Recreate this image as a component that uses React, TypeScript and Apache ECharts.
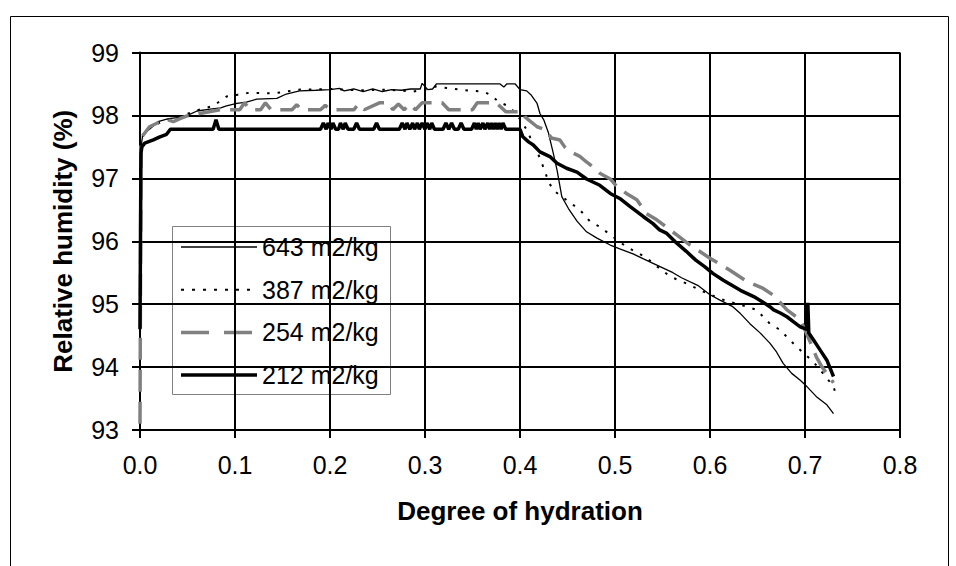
import React, { useEffect, useRef } from "react";
import * as echarts from "echarts";

const xTicks = [0, 0.1, 0.2, 0.3, 0.4, 0.5, 0.6, 0.7, 0.8];
const yTicks = [93, 94, 95, 96, 97, 98, 99];
const seriesNames = ["643 m2/kg", "387 m2/kg", "254 m2/kg", "212 m2/kg"];

const s643: [number, number][] = [
  [0, 96.6], [0.001, 97.5], [0.003, 97.7], [0.01, 97.78], [0.019, 97.9], [0.03, 97.95], [0.042, 97.97],
  [0.05, 98.0], [0.06, 98.07], [0.074, 98.1], [0.085, 98.12], [0.091, 98.15], [0.102, 98.19], [0.112, 98.21],
  [0.123, 98.26], [0.144, 98.27], [0.154, 98.34], [0.168, 98.39], [0.185, 98.4], [0.2, 98.41], [0.21, 98.43],
  [0.215, 98.39], [0.225, 98.42], [0.235, 98.38], [0.245, 98.42], [0.255, 98.38], [0.265, 98.41], [0.275, 98.4],
  [0.285, 98.42], [0.295, 98.42], [0.297, 98.51], [0.303, 98.41], [0.308, 98.42], [0.312, 98.5], [0.379, 98.5],
  [0.383, 98.45], [0.386, 98.5], [0.395, 98.5], [0.4, 98.41], [0.407, 98.39], [0.412, 98.32], [0.418, 98.19],
  [0.421, 98.03], [0.425, 97.93], [0.43, 97.72], [0.435, 97.4], [0.439, 97.13], [0.444, 96.71], [0.451, 96.52],
  [0.46, 96.32], [0.47, 96.15], [0.481, 96.05], [0.495, 95.94], [0.505, 95.88], [0.519, 95.8], [0.53, 95.72],
  [0.544, 95.62], [0.561, 95.5], [0.57, 95.42], [0.587, 95.3], [0.6, 95.15], [0.611, 95.06], [0.624, 94.96],
  [0.632, 94.85], [0.642, 94.69], [0.653, 94.54], [0.663, 94.38], [0.67, 94.24], [0.677, 94.06], [0.686, 93.9],
  [0.695, 93.79], [0.702, 93.69], [0.712, 93.53], [0.723, 93.4], [0.73, 93.26],
];

const s387: [number, number][] = [
  [0, 97.0], [0.001, 97.6], [0.005, 97.75], [0.015, 97.85], [0.03, 97.93], [0.045, 98.0], [0.06, 98.08],
  [0.077, 98.15], [0.091, 98.3], [0.103, 98.33], [0.115, 98.36], [0.14, 98.35], [0.168, 98.41], [0.2, 98.42],
  [0.23, 98.4], [0.26, 98.41], [0.288, 98.38], [0.3, 98.41], [0.312, 98.46], [0.326, 98.43], [0.337, 98.41],
  [0.349, 98.39], [0.361, 98.38], [0.37, 98.32], [0.377, 98.22], [0.389, 98.14], [0.397, 98.0], [0.402, 97.9],
  [0.407, 97.77], [0.412, 97.61], [0.418, 97.42], [0.421, 97.32], [0.425, 97.16], [0.43, 96.95], [0.435, 96.81],
  [0.444, 96.71], [0.454, 96.6], [0.463, 96.5], [0.474, 96.31], [0.484, 96.23], [0.498, 96.07], [0.512, 95.91],
  [0.532, 95.75], [0.54, 95.65], [0.558, 95.44], [0.575, 95.33], [0.597, 95.17], [0.614, 95.07], [0.632, 94.99],
  [0.649, 94.91], [0.663, 94.69], [0.674, 94.59], [0.684, 94.43], [0.695, 94.27], [0.709, 94.08], [0.719, 93.9],
  [0.73, 93.69], [0.732, 93.59],
];

const s254: [number, number][] = [
  [0, 93.1], [0.001, 97.5], [0.002, 97.66], [0.01, 97.82], [0.021, 97.9], [0.028, 97.94], [0.035, 97.9],
  [0.042, 97.95], [0.049, 97.99], [0.063, 98.03], [0.084, 98.09], [0.105, 98.09], [0.11, 98.2], [0.116, 98.09],
  [0.127, 98.09], [0.132, 98.2], [0.138, 98.09], [0.16, 98.09], [0.165, 98.17], [0.17, 98.09], [0.19, 98.09],
  [0.195, 98.16], [0.2, 98.09], [0.225, 98.09], [0.23, 98.18], [0.236, 98.09], [0.252, 98.2], [0.262, 98.2],
  [0.266, 98.09], [0.272, 98.18], [0.278, 98.09], [0.284, 98.18], [0.29, 98.09], [0.297, 98.2], [0.318, 98.2],
  [0.325, 98.09], [0.35, 98.09], [0.355, 98.2], [0.375, 98.2], [0.385, 98.06], [0.403, 98.06], [0.405, 97.98],
  [0.409, 97.93], [0.418, 97.82], [0.427, 97.77], [0.433, 97.64], [0.442, 97.61], [0.447, 97.5], [0.456, 97.4],
  [0.463, 97.35], [0.47, 97.26], [0.477, 97.18], [0.484, 97.08], [0.495, 96.99], [0.502, 96.87], [0.512, 96.76],
  [0.523, 96.66], [0.533, 96.44], [0.544, 96.34], [0.558, 96.18], [0.565, 96.1], [0.579, 95.94], [0.6, 95.73],
  [0.621, 95.54], [0.639, 95.36], [0.656, 95.25], [0.667, 95.14], [0.681, 94.91], [0.695, 94.75], [0.7, 94.59],
  [0.706, 94.38], [0.712, 94.16], [0.718, 94.0], [0.73, 93.75],
];

const s212: [number, number][] = [
  [0, 94.6], [0.001, 97.4], [0.002, 97.5], [0.005, 97.56], [0.014, 97.61], [0.021, 97.66], [0.028, 97.7], [0.032, 97.78],
  [0.077, 97.78], [0.08, 97.93], [0.083, 97.78],
  [0.19, 97.78], [0.193, 97.88], [0.196, 97.78], [0.198, 97.88], [0.201, 97.78], [0.203, 97.88], [0.206, 97.78],
  [0.209, 97.78], [0.211, 97.88], [0.214, 97.78], [0.216, 97.88], [0.219, 97.78], [0.225, 97.78], [0.228, 97.88],
  [0.231, 97.78], [0.246, 97.78], [0.249, 97.88], [0.252, 97.78],
  [0.273, 97.78], [0.276, 97.88], [0.279, 97.78], [0.281, 97.88], [0.284, 97.78], [0.287, 97.88], [0.289, 97.78],
  [0.292, 97.88], [0.294, 97.78], [0.297, 97.88], [0.3, 97.78], [0.302, 97.88], [0.305, 97.78], [0.307, 97.88],
  [0.31, 97.78], [0.319, 97.78], [0.322, 97.88], [0.325, 97.78], [0.328, 97.88], [0.331, 97.78],
  [0.335, 97.78], [0.338, 97.88], [0.341, 97.78],
  [0.349, 97.78], [0.352, 97.88], [0.354, 97.78], [0.356, 97.88], [0.358, 97.78], [0.361, 97.88], [0.363, 97.78],
  [0.366, 97.88], [0.368, 97.78], [0.37, 97.88], [0.372, 97.78], [0.374, 97.88], [0.376, 97.78], [0.378, 97.88],
  [0.38, 97.78], [0.382, 97.88], [0.385, 97.78],
  [0.4, 97.78], [0.403, 97.66], [0.409, 97.58], [0.414, 97.53], [0.421, 97.42], [0.432, 97.34], [0.439, 97.24],
  [0.449, 97.16], [0.46, 97.1], [0.47, 96.99], [0.484, 96.89], [0.495, 96.76], [0.505, 96.68], [0.516, 96.55],
  [0.53, 96.39], [0.54, 96.28], [0.547, 96.18], [0.554, 96.13], [0.565, 95.97], [0.575, 95.84], [0.585, 95.7],
  [0.594, 95.6], [0.603, 95.49], [0.614, 95.38], [0.623, 95.3], [0.632, 95.22], [0.646, 95.12], [0.655, 95.04],
  [0.663, 94.96], [0.667, 94.91], [0.674, 94.86], [0.681, 94.8], [0.688, 94.72], [0.695, 94.64],
  [0.702, 94.6], [0.703, 95.02], [0.704, 94.54], [0.709, 94.43], [0.716, 94.27], [0.723, 94.11], [0.73, 93.85],
];

const FONT = "'Liberation Sans', Arial, sans-serif";

const styles = [
  { color: "#000000", width: 1.3, dash: "solid" as any, legendDash: null as number[] | null },
  { color: "#000000", width: 2, dash: [2.5, 8] as any, legendDash: [3, 8] },
  { color: "#808080", width: 3.5, dash: [22, 10] as any, legendDash: [28, 15] },
  { color: "#000000", width: 3.5, dash: "solid" as any, legendDash: null },
];

export default function App() {
  const ref = useRef<HTMLDivElement>(null);
  useEffect(() => {
    if (!ref.current) return;
    const chart = echarts.init(ref.current, null, { renderer: "svg" });
    const datasets = [s643, s387, s254, s212];

    const legendTop = 226;
    const rowH = 42.7;
    const legendEls: any[] = [
      {
        type: "rect",
        shape: { x: 172.5, y: legendTop + 0.5, width: 218, height: 168 },
        style: { fill: "#ffffff", stroke: "#808080", lineWidth: 1 },
      },
    ];
    seriesNames.forEach((name, i) => {
      const cy = legendTop + 21 + i * rowH;
      legendEls.push({
        type: "line",
        shape: { x1: 181, y1: cy, x2: 257, y2: cy },
        style: {
          stroke: styles[i].color,
          lineWidth: styles[i].width,
          lineDash: styles[i].legendDash || undefined,
        },
      });
      legendEls.push({
        type: "text",
        x: 262,
        y: cy,
        style: {
          text: name,
          fontSize: 25,
          fontFamily: FONT,
          fill: "#000",
          verticalAlign: "middle",
          align: "left",
        },
      });
    });

    chart.setOption({
      animation: false,
      backgroundColor: "#ffffff",
      textStyle: { fontFamily: FONT, color: "#000" },
      grid: { left: 140, top: 52.5, right: 56, bottom: 136, containLabel: false },
      xAxis: {
        type: "value",
        min: xTicks[0],
        max: xTicks[xTicks.length - 1],
        interval: 0.1,
        name: "Degree of hydration",
        nameLocation: "middle",
        nameGap: 68,
        nameTextStyle: { fontSize: 26, fontWeight: "bold", color: "#000", fontFamily: FONT },
        axisLine: { show: true, onZero: false, lineStyle: { color: "#000", width: 2 } },
        axisTick: { show: true, inside: false, length: 8, lineStyle: { color: "#000", width: 2 } },
        axisLabel: {
          fontSize: 25,
          color: "#000",
          margin: 22,
          formatter: (v: number) => v.toFixed(1),
        },
        splitLine: { show: true, lineStyle: { color: "#000", width: 2 } },
      },
      yAxis: {
        type: "value",
        min: yTicks[0],
        max: yTicks[yTicks.length - 1],
        interval: 1,
        name: "Relative humidity (%)",
        nameLocation: "middle",
        nameGap: 64,
        nameTextStyle: { fontSize: 26, fontWeight: "bold", color: "#000", fontFamily: FONT },
        axisLine: { show: true, lineStyle: { color: "#000", width: 2 } },
        axisTick: { show: true, inside: false, length: 8, lineStyle: { color: "#000", width: 2 } },
        axisLabel: { fontSize: 25, color: "#000", margin: 21 },
        splitLine: { show: true, lineStyle: { color: "#000", width: 2 } },
      },
      series: datasets.map((d, i) => ({
        name: seriesNames[i],
        type: "line",
        data: d,
        symbol: "none",
        showSymbol: false,
        smooth: false,
        z: 2 + i,
        lineStyle: { color: styles[i].color, width: styles[i].width, type: styles[i].dash },
        itemStyle: { color: styles[i].color },
      })),
      graphic: [
        {
          type: "rect",
          silent: true,
          shape: { x: 10.5, y: 16.5, width: 938, height: 600 },
          style: { fill: "none", stroke: "#000", lineWidth: 1 },
          z: 0,
        },
        { type: "group", z: 100, children: legendEls },
      ],
    });
    return () => chart.dispose();
  }, []);
  return (
    <div
      ref={ref}
      style={{ position: "absolute", left: 0, top: 0, width: 956, height: 566, background: "#fff" }}
    />
  );
}
